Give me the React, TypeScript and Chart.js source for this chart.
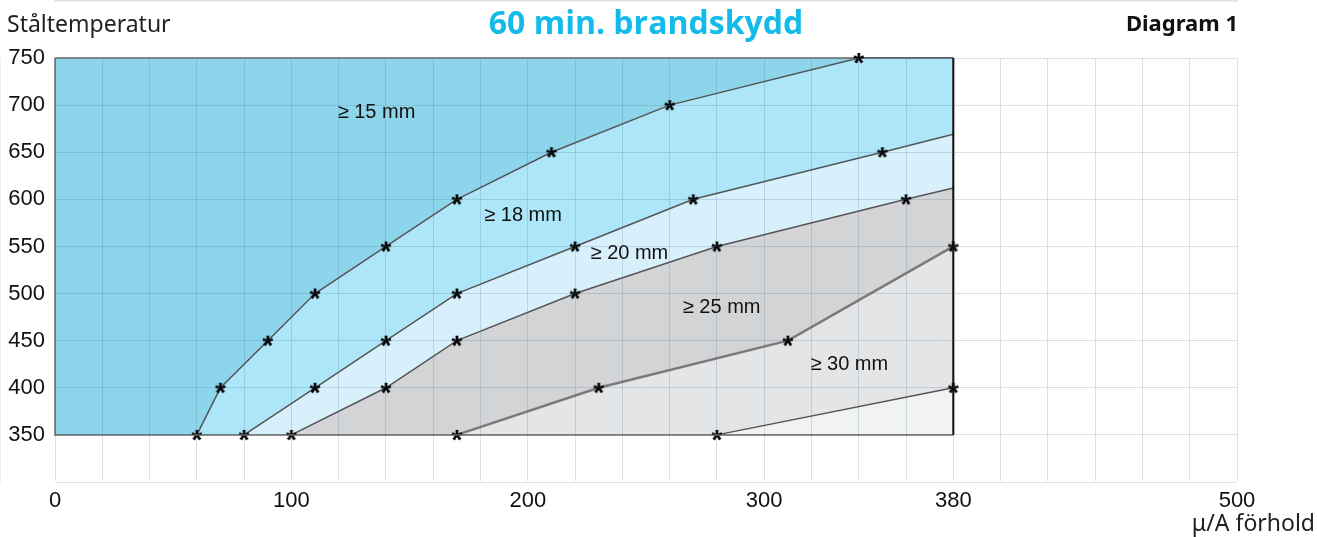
import React, { useEffect, useRef } from "react";
import { Chart, registerables } from "chart.js";

Chart.register(...registerables);

// ---- data ----
const xTickLabels = [0, 100, 200, 300, 380, 500];
const yTickLabels = [350, 400, 450, 500, 550, 600, 650, 700, 750];

// boundary between >=15 and >=18 mm
const line15X = [60, 70, 90, 110, 140, 170, 210, 260, 340, 380];
const line15Y = [350, 400, 450, 500, 550, 600, 650, 700, 750, 750];
const line15Star = [1, 1, 1, 1, 1, 1, 1, 1, 1, 0];
// boundary between >=18 and >=20 mm
const line18X = [80, 110, 140, 170, 220, 270, 350, 380];
const line18Y = [350, 400, 450, 500, 550, 600, 650, 669];
const line18Star = [1, 1, 1, 1, 1, 1, 1, 0];
// boundary between >=20 and >=25 mm
const line20X = [100, 140, 170, 220, 280, 360, 380];
const line20Y = [350, 400, 450, 500, 550, 600, 612];
const line20Star = [1, 1, 1, 1, 1, 1, 0];
// boundary between >=25 and >=30 mm
const line25X = [170, 230, 310, 380];
const line25Y = [350, 400, 450, 550];
const line25Star = [1, 1, 1, 1];
// lower boundary of >=30 mm
const line30X = [280, 380];
const line30Y = [350, 400];
const line30Star = [1, 1];

// outer frame of the diagram area
const frameTopX = [0, 380];
const frameTopY = [750, 750];
const frameLeftBottomX = [0, 0, 380];
const frameLeftBottomY = [750, 350, 350];
const frameRightX = [380, 380];
const frameRightY = [350, 750];

const zoneLabels = ["≥ 15 mm", "≥ 18 mm", "≥ 20 mm", "≥ 25 mm", "≥ 30 mm"];
const zoneLabelX = [136, 198, 243, 282, 336];
const zoneLabelY = [692, 583, 543, 485, 425];

const titleText = "60 min. brandskydd";
const yTitle = "Ståltemperatur";
const diagramText = "Diagram 1";
const xTitle = "μ/A förhold";

function pts(xs: number[], ys: number[]) {
  return xs.map((x, i) => ({ x, y: ys[i] }));
}

function makeStar(): HTMLCanvasElement {
  const c = document.createElement("canvas");
  c.width = 18;
  c.height = 18;
  const ctx = c.getContext("2d")!;
  ctx.fillStyle = "#000";
  ctx.font = 'bold 28px "Liberation Sans", Arial, sans-serif';
  const m = ctx.measureText("*");
  const w = m.actualBoundingBoxLeft + m.actualBoundingBoxRight;
  const h = m.actualBoundingBoxAscent + m.actualBoundingBoxDescent;
  ctx.fillText("*", 9 - w / 2 + m.actualBoundingBoxLeft, 9 - h / 2 + m.actualBoundingBoxAscent);
  return c;
}

export default function App() {
  const ref = useRef<HTMLCanvasElement | null>(null);

  useEffect(() => {
    if (!ref.current) return;
    const star = makeStar();
    const radii = (flags: number[]) => flags.map((f) => (f ? 6 : 0));

    const boundary = (
      xs: number[],
      ys: number[],
      flags: number[],
      fillColor: string,
      order: number,
      lineColor = "#555",
      lineWidth = 1.5
    ) => ({
      data: pts(xs, ys),
      borderColor: lineColor,
      borderWidth: lineWidth,
      backgroundColor: fillColor,
      fill: { value: 350 },
      pointStyle: star,
      pointRadius: radii(flags),
      pointHoverRadius: radii(flags),
      tension: 0,
      order,
      clip: false as any,
    });

    const textPlugin = {
      id: "texts",
      afterDatasetsDraw(chart: any) {
        const { ctx, scales } = chart;
        ctx.save();
        ctx.fillStyle = "#111";
        ctx.font = '20px "Liberation Sans", Arial, sans-serif';
        ctx.textAlign = "center";
        ctx.textBaseline = "middle";
        zoneLabels.forEach((t, i) => {
          ctx.fillText(t, scales.x.getPixelForValue(zoneLabelX[i]), scales.y.getPixelForValue(zoneLabelY[i]));
        });
        ctx.restore();
      },
      afterDraw(chart: any) {
        const ctx = chart.ctx;
        ctx.save();
        ctx.textBaseline = "middle";
        ctx.textAlign = "center";
        ctx.fillStyle = "#12bbe9";
        ctx.font = 'bold 32px "Open Sans", sans-serif';
        ctx.fillText(titleText, 646, 25);
        ctx.textAlign = "left";
        ctx.fillStyle = "#222";
        ctx.font = '23px "Noto Sans", sans-serif';
        ctx.fillText(yTitle, 7, 25);
        ctx.textAlign = "right";
        ctx.fillStyle = "#111";
        ctx.font = 'bold 22px "Noto Sans", sans-serif';
        ctx.fillText(diagramText, 1238, 25);
        ctx.font = '23px "Noto Sans", sans-serif';
        ctx.fillStyle = "#222";
        ctx.fillText(xTitle, 1315, 524);
        ctx.restore();
      },
    };

    const gridColor = "rgba(70,100,130,0.2)";

    const chart = new Chart(ref.current, {
      type: "line",
      data: {
        datasets: [
          {
            data: pts(frameTopX, frameTopY),
            borderColor: "#888",
            borderWidth: 2,
            backgroundColor: "#8dd5eb",
            fill: { value: 350 },
            pointRadius: 0,
            order: 10,
            clip: false as any,
          },
          boundary(line15X, line15Y, line15Star, "#ace6f8", 9),
          boundary(line18X, line18Y, line18Star, "#d7f0fb", 8),
          boundary(line20X, line20Y, line20Star, "#d3d4d6", 7),
          boundary(line25X, line25Y, line25Star, "#e4e5e7", 6, "#7a7a7a", 2.5),
          boundary(line30X, line30Y, line30Star, "#f1f2f2", 5),
          {
            data: pts(frameLeftBottomX, frameLeftBottomY),
            borderColor: "#666",
            borderWidth: 1.5,
            fill: false,
            pointRadius: 0,
            order: 3,
            clip: false as any,
          },
          {
            data: pts(frameRightX, frameRightY),
            borderColor: "#000",
            borderWidth: 2,
            fill: false,
            pointRadius: 0,
            order: 2,
            clip: false as any,
          },
        ] as any,
      },
      options: {
        animation: false,
        responsive: false,
        events: [],
        layout: { padding: { top: 58, right: 80, left: 0, bottom: 0 } },
        plugins: {
          legend: { display: false },
          tooltip: { enabled: false },
          title: { display: false },
        },
        scales: {
          x: {
            type: "linear",
            min: 0,
            max: 500,
            afterFit: (s: any) => {
              s.height = 55;
            },
            grid: { color: gridColor, lineWidth: 1, drawTicks: false, z: 1 },
            border: { color: "#dde3e8", width: 3 },
            ticks: {
              stepSize: 20,
              autoSkip: false,
              maxRotation: 0,
              padding: 6,
              color: "#111",
              font: { family: '"Liberation Sans", Arial, sans-serif', size: 22 },
              callback: (v: any) => (xTickLabels.includes(Number(v)) ? String(v) : ""),
            },
          },
          y: {
            type: "linear",
            min: 300,
            max: 750,
            afterFit: (s: any) => {
              s.width = 55;
            },
            grid: { color: gridColor, lineWidth: 1, drawTicks: false, z: 1 },
            border: { color: "#dde3e8", width: 1 },
            ticks: {
              stepSize: 50,
              autoSkip: false,
              padding: 10,
              color: "#111",
              font: { family: '"Liberation Sans", Arial, sans-serif', size: 22 },
              callback: (v: any) => (yTickLabels.includes(Number(v)) ? String(v) : ""),
            },
          },
        },
      } as any,
      plugins: [textPlugin],
    });
    return () => chart.destroy();
  }, []);

  return (
    <div style={{ position: "absolute", left: 0, top: 0, width: 1317, height: 537, background: "#fff" }}>
      <canvas ref={ref} width={1317} height={537} style={{ width: 1317, height: 537, display: "block" }} />
    </div>
  );
}
